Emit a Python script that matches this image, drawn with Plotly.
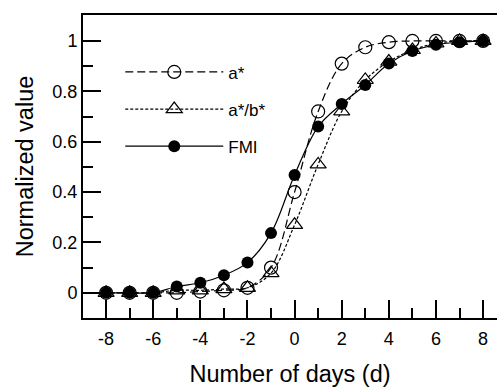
import plotly.graph_objects as go

days = [-8, -7, -6, -5, -4, -3, -2, -1, 0, 1, 2, 3, 4, 5, 6, 7, 8]
a_star = [0.0, 0.0, 0.0, 0.0, 0.005, 0.01, 0.02, 0.10, 0.40, 0.72, 0.91, 0.975, 0.995, 1.0, 1.0, 1.0, 1.0]
a_over_b = [0.0, 0.0, 0.0, 0.01, 0.01, 0.015, 0.02, 0.078, 0.27, 0.51, 0.72, 0.845, 0.918, 0.964, 0.99, 1.0, 1.0]
fmi = [0.0, 0.0, 0.0, 0.025, 0.04, 0.07, 0.12, 0.237, 0.468, 0.66, 0.75, 0.825, 0.91, 0.96, 0.985, 0.995, 1.0]

x_ticks = [-8, -6, -4, -2, 0, 2, 4, 6, 8]
y_ticks = [0, 0.2, 0.4, 0.6, 0.8, 1]
y_tick_labels = ["0", "0.2", "0.4", "0.6", "0.8", "1"]

FONT = "Liberation Sans, Arial, sans-serif"

fig = go.Figure()
fig.add_trace(go.Scatter(
    x=days, y=a_star, name="a*", mode="lines+markers", legendgroup="g1",
    line=dict(color="black", width=1.2, dash="8px,4px", shape="spline"),
    marker=dict(symbol="circle-open", size=13, color="black", line=dict(width=1.2)),
))
fig.add_trace(go.Scatter(
    x=days, y=a_over_b, name="a*/b*", mode="lines+markers", legendgroup="g2",
    line=dict(color="black", width=1.2, dash="3px,2px", shape="spline"),
    marker=dict(symbol="triangle-up-open", size=14, color="black", line=dict(width=1.2)),
))
fig.add_trace(go.Scatter(
    x=days, y=fmi, name="FMI", mode="lines+markers", legendgroup="g3",
    line=dict(color="black", width=1.2, shape="spline"),
    marker=dict(symbol="circle", size=12, color="black"),
))

fig.update_layout(
    width=497, height=387,
    margin=dict(l=83, r=0, t=15, b=69),
    plot_bgcolor="white", paper_bgcolor="white",
    font=dict(family=FONT, size=17, color="black"),
    showlegend=True,
    legend=dict(
        x=0.09, y=0.87, xanchor="left", yanchor="top",
        bgcolor="rgba(0,0,0,0)", borderwidth=0,
        font=dict(size=17), itemwidth=98,
        traceorder="grouped", tracegroupgap=12,
    ),
    xaxis=dict(
        range=[-8.98, 8.59], tickvals=x_ticks, ticktext=[str(v) for v in x_ticks],
        ticks="inside", ticklen=18, tickwidth=2, tickcolor="black",
        minor=dict(dtick=1, tick0=0, ticks="inside", ticklen=10, tickwidth=2, tickcolor="black", showgrid=False),
        showline=True, linecolor="black", linewidth=2, mirror=True,
        showgrid=False, zeroline=False,
        title=dict(text="Number of days (d)", font=dict(size=23.5), standoff=18),
        tickfont=dict(size=18), ticklabelstandoff=3,
    ),
    yaxis=dict(
        range=[-0.1, 1.103], tickvals=y_ticks, ticktext=y_tick_labels,
        ticks="inside", ticklen=18, tickwidth=2, tickcolor="black",
        minor=dict(dtick=0.1, tick0=0, ticks="inside", ticklen=10, tickwidth=2, tickcolor="black", showgrid=False),
        showline=True, linecolor="black", linewidth=2, mirror=False,
        showgrid=False, zeroline=False,
        title=dict(text="Normalized value", font=dict(size=23.5), standoff=12),
        tickfont=dict(size=18),
    ),
)

fig.write_html("out.html")
